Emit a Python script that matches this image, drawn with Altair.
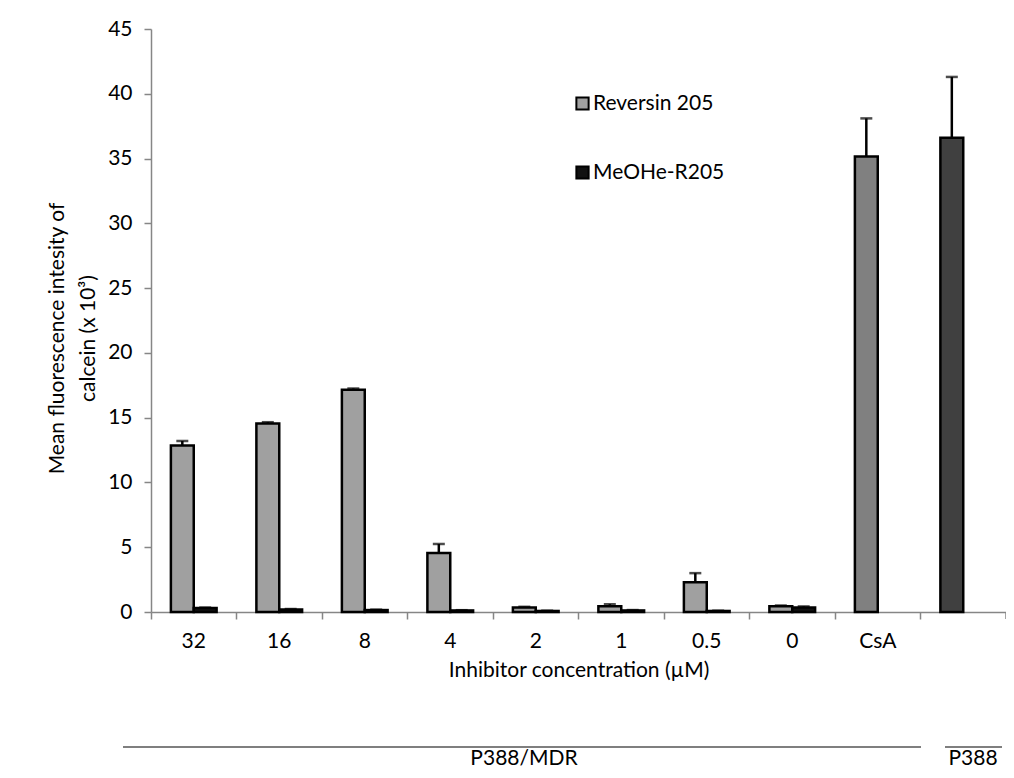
import altair as alt
import pandas as pd

categories = ["32", "16", "8", "4", "2", "1", "0.5", "0", "CsA", "P388"]
reversin = [12.85, 14.55, 17.15, 4.55, 0.35, 0.45, 2.3, 0.45]
reversin_err = [0.35, 0.1, 0.1, 0.7, 0.05, 0.15, 0.7, 0.05]
meohe = [0.3, 0.2, 0.15, 0.12, 0.08, 0.12, 0.08, 0.35]
meohe_err = [0.04, 0.03, 0.03, 0.02, 0.02, 0.03, 0.02, 0.08]
controls = ["CsA", "P388"]
control_vals = [35.15, 36.6]
control_err = [2.95, 4.7]

series_names = ["Reversin 205", "MeOHe-R205", "CsA", "P388"]
series_colors = ["#a0a0a0", "#111111", "#808080", "#404040"]

rows = []
for i, c in enumerate(categories[:8]):
    rows.append({"cat": c, "series": "Reversin 205", "slot": "a", "v": reversin[i], "top": reversin[i] + reversin_err[i]})
    rows.append({"cat": c, "series": "MeOHe-R205", "slot": "b", "v": meohe[i], "top": meohe[i] + meohe_err[i]})
for i, c in enumerate(controls):
    rows.append({"cat": c, "series": c, "slot": "a", "v": control_vals[i], "top": control_vals[i] + control_err[i]})
df = pd.DataFrame(rows)

W, H = 855, 583
FONT = "Lato"
FS = 21

x_enc = alt.X("cat:N", sort=categories, scale=alt.Scale(paddingInner=0, paddingOuter=0),
              axis=alt.Axis(title="Inhibitor concentration (µM)", labelAngle=0, bandPosition=0,
                            labelExpr="datum.value == 'P388' ? '' : datum.value",
                            titlePadding=8, labelPadding=11))
xo_enc = alt.XOffset("slot:N", scale=alt.Scale(domain=["a", "b"], paddingOuter=0.87, paddingInner=0))
y_scale = alt.Scale(domain=[0, 45], nice=False)

base = alt.Chart(df)

bars = base.mark_bar(stroke="black", strokeWidth=2.5).encode(
    x=x_enc,
    xOffset=xo_enc,
    y=alt.Y("v:Q", scale=y_scale,
            axis=alt.Axis(values=list(range(0, 46, 5)), grid=False,
                          title=["Mean fluorescence intesity of", "calcein (x 10³)"],
                          titlePadding=9, labelPadding=12, titleLineHeight=31, titleY=309)),
    color=alt.Color("series:N", scale=alt.Scale(domain=series_names, range=series_colors),
                    legend=alt.Legend(values=["Reversin 205", "MeOHe-R205"], title=None,
                                      orient="none", legendX=421, legendY=64,
                                      symbolType="square", symbolSize=150,
                                      symbolStrokeColor="black", symbolStrokeWidth=2,
                                      labelFontSize=FS, labelFont=FONT, labelColor="black",
                                      rowPadding=47, labelOffset=0)),
)

err = base.mark_rule(color="black", strokeWidth=2.5).encode(
    x=alt.X("cat:N", sort=categories), xOffset=xo_enc,
    y=alt.Y("v:Q", scale=y_scale), y2="top:Q")

caps = base.mark_tick(color="black", thickness=2.5, size=12).encode(
    x=alt.X("cat:N", sort=categories), xOffset=xo_enc,
    y=alt.Y("top:Q", scale=y_scale))

one = pd.DataFrame({"k": [0]})
ann = alt.Chart(one)
end_tick = ann.mark_rule(color="#868686", strokeWidth=1.5).encode(
    x=alt.value(W), y=alt.value(H), y2=alt.value(H + 7))
line1 = ann.mark_rule(color="black", strokeWidth=1.2).encode(
    x=alt.value(-28), x2=alt.value(770), y=alt.value(718))
line2 = ann.mark_rule(color="black", strokeWidth=1.2).encode(
    x=alt.value(794), x2=alt.value(851), y=alt.value(718))
txt1 = ann.mark_text(font=FONT, fontSize=FS, color="black", baseline="bottom").encode(
    x=alt.value(373), y=alt.value(740), text=alt.value("P388/MDR"))
txt2 = ann.mark_text(font=FONT, fontSize=FS, color="black", baseline="bottom").encode(
    x=alt.value(822), y=alt.value(740), text=alt.value("P388"))

chart = alt.layer(bars, err, caps, end_tick, line1, line2, txt1, txt2).properties(
    width=W, height=H,
    autosize=alt.AutoSizeParams(type="none"),
    padding={"left": 143, "top": 21, "right": 0, "bottom": 158},
).configure_view(stroke=None).configure_axis(
    domainColor="#868686", tickColor="#868686", domainWidth=1.5, tickWidth=1.5, tickSize=7,
    labelFont=FONT, labelFontSize=FS, labelColor="black",
    titleFont=FONT, titleFontSize=FS, titleFontWeight="normal", titleColor="black",
)

chart.save("out.html", embed_options={"renderer": "svg", "actions": False})
